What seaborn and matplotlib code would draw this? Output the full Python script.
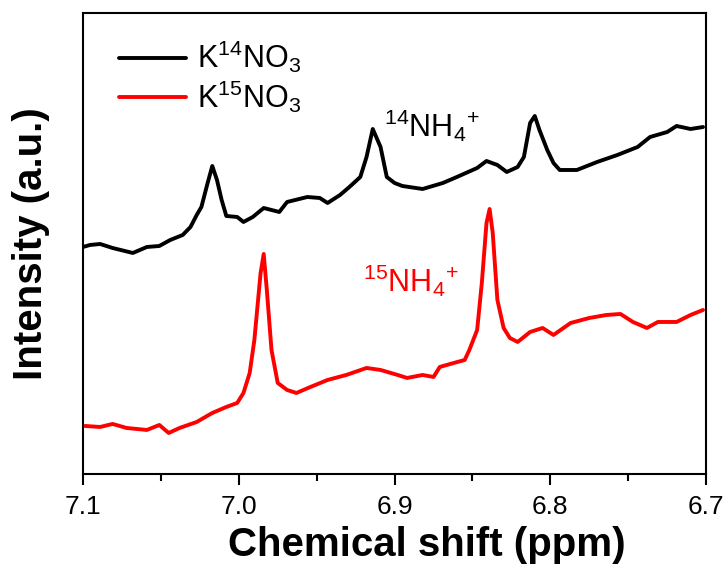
import numpy as np
import pandas as pd
import matplotlib
matplotlib.use("Agg")
import matplotlib.pyplot as plt
from matplotlib.ticker import MultipleLocator
import seaborn as sns

# ---- data ----
shift_14 = [7.100, 7.0955, 7.089, 7.081, 7.068, 7.059, 7.051, 7.044, 7.036, 7.031,
            7.027, 7.024, 7.020, 7.017, 7.014, 7.011, 7.008, 7.001, 6.997, 6.991,
            6.984, 6.974, 6.969, 6.956, 6.948, 6.943, 6.935, 6.929, 6.922, 6.918,
            6.914, 6.909, 6.905, 6.900, 6.895, 6.882, 6.869, 6.860, 6.847, 6.841,
            6.834, 6.828, 6.821, 6.817, 6.813, 6.810, 6.807, 6.802, 6.798, 6.794,
            6.783, 6.770, 6.757, 6.744, 6.736, 6.725, 6.719, 6.710, 6.702]
int_14 = [227, 229, 230, 226, 221, 227, 228, 234, 239, 247,
          259, 267, 291, 308, 294, 274, 258, 257, 252, 257,
          266, 262, 272, 277, 276, 271, 279, 287, 297, 317,
          345, 327, 297, 291, 288, 285, 291, 297, 306, 313,
          309, 302, 307, 317, 351, 358, 344, 324, 311, 304,
          304, 312, 319, 327, 337, 342, 348, 345, 347]

shift_15 = [7.0987, 7.089, 7.081, 7.072, 7.059, 7.051, 7.045, 7.038, 7.027, 7.017,
            7.008, 7.001, 6.997, 6.993, 6.990, 6.986, 6.984, 6.982, 6.979, 6.975,
            6.969, 6.963, 6.954, 6.943, 6.931, 6.918, 6.909, 6.898, 6.892, 6.882,
            6.875, 6.871, 6.862, 6.855, 6.852, 6.847, 6.844, 6.841, 6.839, 6.837,
            6.834, 6.830, 6.826, 6.821, 6.813, 6.805, 6.798, 6.787, 6.775, 6.764,
            6.755, 6.747, 6.738, 6.731, 6.719, 6.710, 6.702]
int_15 = [48, 47, 50, 46, 44, 49, 41, 46, 52, 61,
          67, 71, 81, 101, 134, 201, 220, 184, 124, 91,
          84, 81, 87, 94, 99, 106, 104, 99, 96, 99,
          97, 107, 111, 114, 124, 144, 191, 251, 265, 241,
          174, 146, 136, 132, 142, 146, 139, 151, 156, 159,
          160, 152, 146, 152, 152, 159, 164]

labels = [r'$\mathregular{K^{14}NO_3}$', r'$\mathregular{K^{15}NO_3}$']
colors = ['black', 'red']
xticks = [7.1, 7.0, 6.9, 6.8, 6.7]

df = pd.concat([
    pd.DataFrame({'shift': shift_14, 'intensity': int_14, 'sample': labels[0]}),
    pd.DataFrame({'shift': shift_15, 'intensity': int_15, 'sample': labels[1]}),
], ignore_index=True)

sns.set_style('ticks')
plt.rcParams['font.family'] = ['Liberation Sans', 'DejaVu Sans']
plt.rcParams['mathtext.default'] = 'regular'
plt.rcParams['text.color'] = 'black'
plt.rcParams['axes.labelcolor'] = 'black'
plt.rcParams['xtick.color'] = 'black'
plt.rcParams['ytick.color'] = 'black'

fig = plt.figure(figsize=(7.28, 5.78), dpi=100)
ax = fig.add_axes([0.114, 0.180, 0.856, 0.7975])

sns.lineplot(data=df, x='shift', y='intensity', hue='sample', hue_order=labels,
             palette=colors, estimator=None, sort=True, linewidth=2.8, ax=ax)

ax.set_xlim(7.1, 6.7)
ax.set_ylim(0, 461)
ax.set_xticks(xticks)
ax.set_xticklabels([f'{t:.1f}' for t in xticks])
ax.xaxis.set_minor_locator(MultipleLocator(0.05))
ax.set_yticks([])
ax.tick_params(axis='x', which='major', direction='out', length=8, width=1.5,
               labelsize=19, pad=7, colors='black')
ax.tick_params(axis='x', which='minor', direction='out', length=5, width=1.5)
for s in ax.spines.values():
    s.set_visible(True)
    s.set_linewidth(1.5)
    s.set_color('black')

ax.set_xlabel('Chemical shift (ppm)', fontsize=29, fontweight='bold')
ax.xaxis.set_label_coords(0.552, -0.112)
ax.set_ylabel('Intensity (a.u.)', fontsize=29, fontweight='bold')
ax.yaxis.set_label_coords(-0.053, 0.50)

handles, labs = ax.get_legend_handles_labels()
ax.legend(handles, labs, loc='upper left', bbox_to_anchor=(0.038, 0.97),
          frameon=False, fontsize=22, handlelength=2.2, handletextpad=0.35,
          labelspacing=0.1, borderaxespad=0.0)

ax.text(6.9067, 337, r'$\mathregular{^{14}NH_4{}^{+}}$', fontsize=22, color='black',
        ha='left', va='baseline')
ax.text(6.920, 182, r'$\mathregular{^{15}NH_4{}^{+}}$', fontsize=22, color='red',
        ha='left', va='baseline')

fig.savefig('out.png', dpi=100)
